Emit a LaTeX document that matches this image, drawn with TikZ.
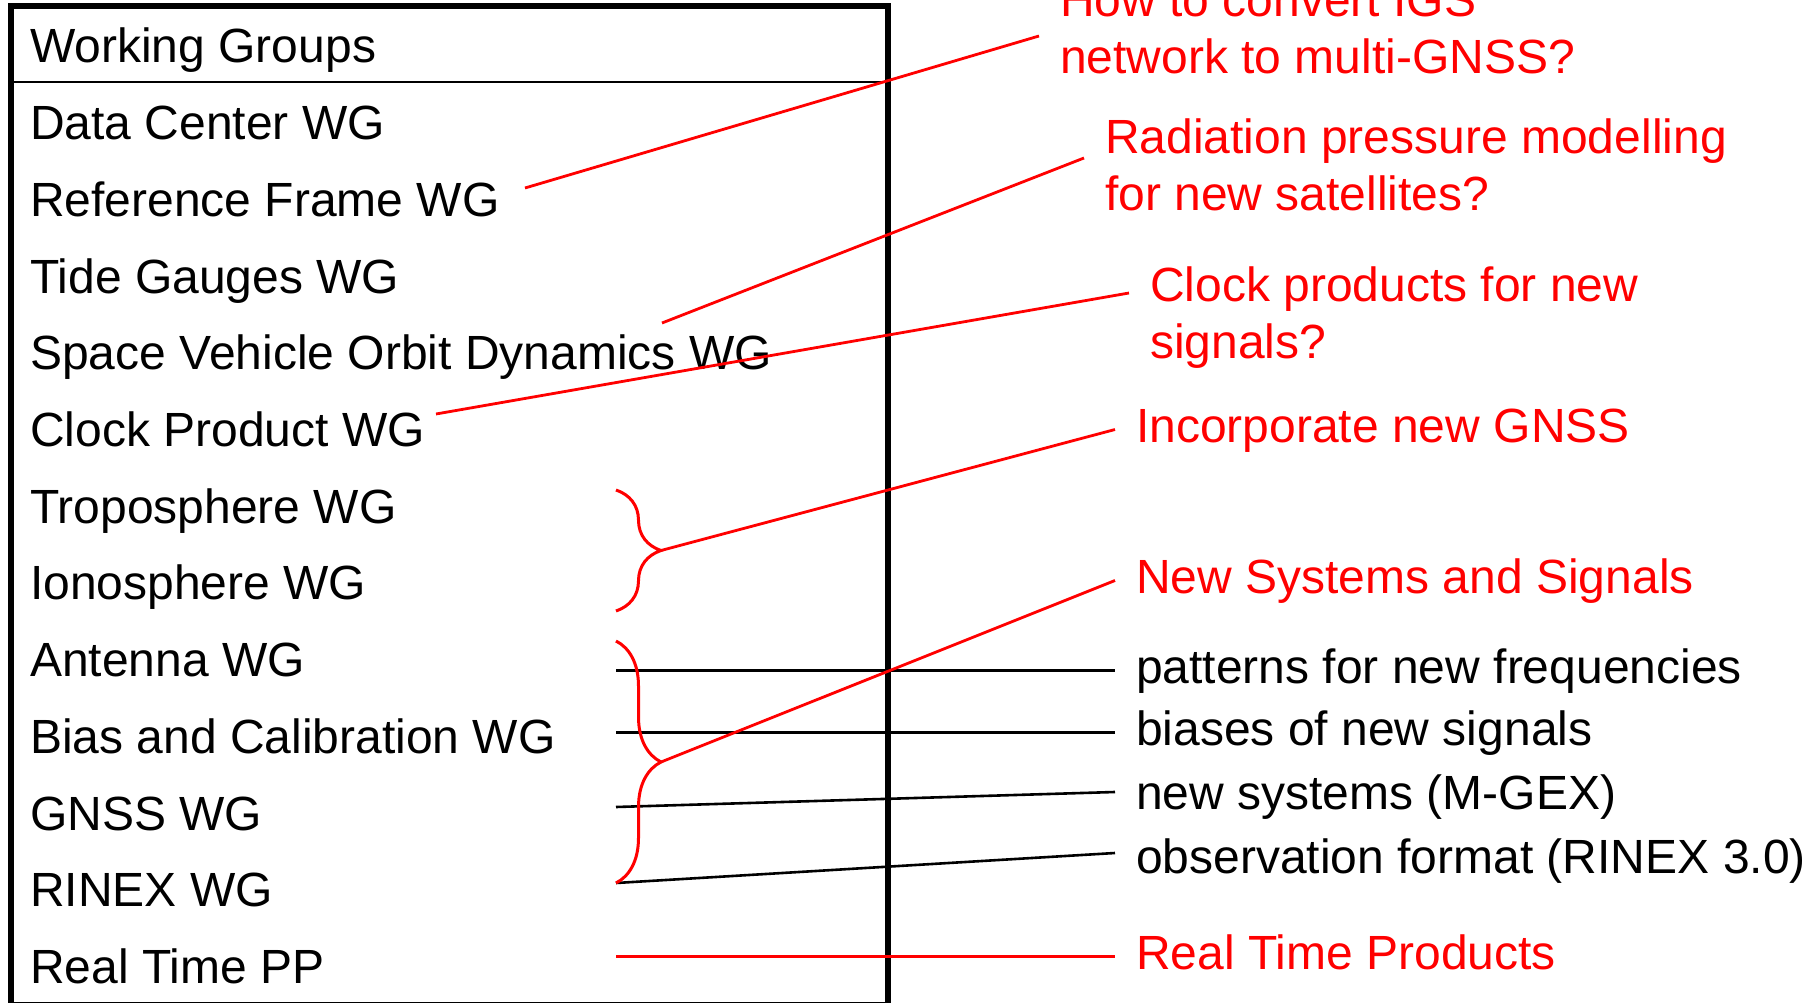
\documentclass[tikz,border=0pt]{standalone}
\usepackage{fontspec}
\setmainfont{Liberation Sans}
\usetikzlibrary{positioning,calc,decorations.pathreplacing}

\begin{document}
\begin{tikzpicture}[x=1pt,y=-1pt,node distance=76.7pt,
                wg/.style = {font=\fontsize{48}{57}\selectfont, text height=35pt, text depth=10pt,
                             inner xsep=0pt, inner ysep=0pt, anchor=west},
                note/.style = {wg, inner xsep=21pt},
                ask/.style = {font=\fontsize{48}{57}\selectfont, align=left, text=red,
                              inner xsep=21pt, inner ysep=0pt, anchor=north west},
                redline/.style = {draw=red, line width=2.8pt},
                blackline/.style = {draw=black, line width=2.6pt},
                bracket/.style = {draw=red, line width=3pt, decorate, decoration={brace, amplitude=45pt}}]
                \useasboundingbox (0,0) rectangle (1808,1003);
                % the table of working groups
                \draw[line width=5.5pt] (11,6) rectangle (888,1005);
                \draw[line width=2.5pt] (11,82) -- (888,82);
                \node[wg] (wghead) at (30,50.5) {Working Groups};
                \node[wg] (datacenter) [below=of wghead.west, anchor=west] {Data Center WG};
                \node[wg] (refframe) [below=of datacenter.west, anchor=west] {Reference Frame WG};
                \node[wg] (tide) [below=of refframe.west, anchor=west] {Tide Gauges WG};
                \node[wg] (orbit) [below=of tide.west, anchor=west] {Space Vehicle Orbit Dynamics WG};
                \node[wg] (clock) [below=of orbit.west, anchor=west] {Clock Product WG};
                \node[wg] (tropo) [below=of clock.west, anchor=west] {Troposphere WG};
                \node[wg] (iono) [below=of tropo.west, anchor=west] {Ionosphere WG};
                \node[wg] (antenna) [below=of iono.west, anchor=west] {Antenna WG};
                \node[wg] (bias) [below=of antenna.west, anchor=west] {Bias and Calibration WG};
                \node[wg] (gnss) [below=of bias.west, anchor=west] {GNSS WG};
                \node[wg] (rinex) [below=of gnss.west, anchor=west] {RINEX WG};
                \node[wg] (realtime) [below=of rinex.west, anchor=west] {Real Time PP};
                % questions and topics on the right
                \node[ask] (convert) at (1039,-17.5) {How to convert IGS\\network to multi-GNSS?};
                \node[ask] (radpress) at (1084,118.5) {Radiation pressure modelling\\for new satellites?};
                \node[ask] (clockprod) at (1129,267) {Clock products for new\\signals?};
                \node[note, text=red] (incorp) at (1115,429.5) {Incorporate new GNSS};
                \node[note, text=red] (newsys) at (1115,580.5) {New Systems and Signals};
                \node[note] (patterns) at (1115,670.5) {patterns for new frequencies};
                \node[note] (biases) at (1115,732.5) {biases of new signals};
                \node[note] (mgex) at (1115,796.5) {new systems (M-GEX)};
                \node[note] (obsfmt) at (1115,860.5) {observation format (RINEX 3.0)};
                \node[note, text=red] (rtprod) at (1115,956.5) {Real Time Products};
                % line ends inside the table
                \coordinate (rf-end) at (525,188);
                \coordinate (sv-end) at (662,323);
                \coordinate (cp-end) at (436,414);
                \coordinate (gnss-end) at (616,807);
                \coordinate (b1top) at (616,490);
                \coordinate (b1bot) at (616,611);
                \coordinate (b2top) at (616,641);
                \coordinate (b2bot) at (616,883);
                \coordinate (b1tip) at ($(b1top)!0.5!(b1bot)+(45,0)$);
                \coordinate (b2tip) at ($(b2top)!0.5!(b2bot)+(45,0)$);
                \draw[blackline] (b2top |- patterns.west) -- (patterns.west);
                \draw[blackline] (b2top |- biases.west) -- (biases.west);
                \draw[blackline] (gnss-end) -- ([yshift=4.5pt]mgex.west);
                \draw[blackline] (b2bot) -- ([yshift=7.5pt]obsfmt.west);
                \draw[bracket] (b1top) -- (b1bot);
                \draw[bracket] (b2top) -- (b2bot);
                \draw[redline] (rf-end) -- ([yshift=-53.5pt]convert.north west);
                \draw[redline] (sv-end) -- ([yshift=-39.5pt]radpress.north west);
                \draw[redline] (cp-end) -- ([yshift=-26pt]clockprod.north west);
                \draw[redline] (b1tip) -- (incorp.west);
                \draw[redline] (b2tip) -- (newsys.west);
                \draw[redline] (b2top |- rtprod.west) -- (rtprod.west);
            \end{tikzpicture}
\end{document}
